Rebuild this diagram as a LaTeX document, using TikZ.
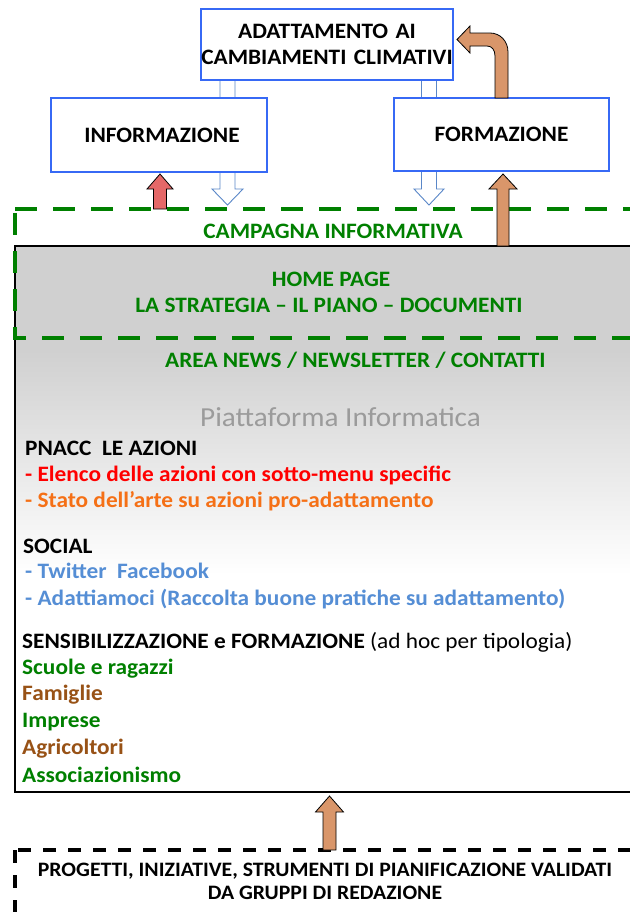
\documentclass[tikz,border=0pt]{standalone}
\usepackage{fontspec}
\setmainfont{Carlito}[FakeStretch=1.06]
\definecolor{boxblue}{RGB}{55,105,245}
\definecolor{hollowblue}{RGB}{90,135,200}
\definecolor{dgreen}{RGB}{0,128,0}
\definecolor{arrred}{RGB}{229,104,104}
\definecolor{arrorange}{RGB}{217,150,106}
\definecolor{txtred}{RGB}{255,0,0}
\definecolor{txtorange}{RGB}{245,112,22}
\definecolor{txtblue}{RGB}{85,142,213}
\definecolor{txtbrown}{RGB}{152,82,22}
\definecolor{platgray}{RGB}{155,155,155}
\definecolor{panelgray}{RGB}{208,208,208}
\newcommand\dtitlefont{\fontsize{22bp}{26bp}\selectfont\bfseries}
\newcommand\ditemfont{\fontsize{22bp}{26bp}\selectfont\bfseries}
\newcommand\dprogfont{\fontsize{20.5bp}{23bp}\selectfont\bfseries}
\begin{document}
\begin{tikzpicture}[x=1bp,y=-1bp,
  bluebox/.style={draw=boxblue,line width=2bp,fill=white,inner sep=0pt,align=center,font=\dtitlefont},
  hollow/.style={draw=hollowblue,line width=0.9bp,fill=white},
  fatarrow/.style={draw=black,line width=0.8bp},
  titletxt/.style={inner sep=0pt,font=\dtitlefont,text=dgreen},
  item/.style={anchor=base west,inner sep=0pt,font=\ditemfont},
  greendash/.style={draw=dgreen,line width=4.5bp,dash pattern=on 22bp off 16bp},
  blackdash/.style={draw=black,line width=3.5bp,dash pattern=on 13bp off 12bp}
]
\useasboundingbox (0,0) rectangle (630,912);
\clip (0,0) rectangle (630,912);
\fill[white] (0,0) rectangle (630,912);

% hollow arrows (behind boxes)
\coordinate (hl) at (227.5,80);
\coordinate (hr) at (429,80);
\draw[hollow] (hl) ++(-7.5,0) -- ++(0,109) -- ++(-8,0) -- ++(15.5,16) -- ++(15.5,-16) -- ++(-8,0) -- ++(0,-109) -- cycle;
\draw[hollow] (hr) ++(-7.5,0) -- ++(0,109) -- ++(-7.5,0) -- ++(15,16) -- ++(15,-16) -- ++(-7.5,0) -- ++(0,-109) -- cycle;

% blue boxes
\node[bluebox,text width=252bp,minimum height=71bp] (top) at (327,44.5) {ADATTAMENTO AI\\CAMBIAMENTI CLIMATIVI};
\node[bluebox,minimum width=216bp,minimum height=74bp] (info) at (159,135) {\hspace*{6bp}INFORMAZIONE};
\node[bluebox,minimum width=215bp,minimum height=73bp] (form) at (501.5,134.5) {FORMAZIONE};

% panel
\fill[white] (15,246) rectangle (660,792);
\fill[panelgray] (15,246) rectangle (660,350);
\shade[top color=panelgray,bottom color=white] (15,350) rectangle (660,575);
\draw[line width=2bp] (660,246) -- (15,246) -- (15,792) -- (660,792);
\coordinate (paneltop) at (503,246);
\coordinate (panelbot) at (329.5,792);

% green dashed campaign box
\draw[greendash] (15,209) -- (660,209);
\draw[greendash,dash phase=34bp] (15,209) -- (15,338) -- (660,338);
\coordinate (camptop) at (160,209);

% black dashed bottom box
\draw[blackdash,dash phase=22bp] (15,850) -- (660,850);
\draw[blackdash] (15,850) -- (15,930);
\coordinate (progtop) at (329.5,850);

% solid arrows
\filldraw[fatarrow,fill=arrred] (camptop) ++(-6.5,0) -- ++(0,-20) -- ++(-6.5,0) -- ++(13,-15) -- ++(13,15) -- ++(-6.5,0) -- ++(0,20) -- cycle;
\filldraw[fatarrow,fill=arrorange] (paneltop) ++(-6,0) -- ++(0,-57) -- ++(-8,0) -- ++(14,-15) -- ++(14,15) -- ++(-8,0) -- ++(0,57) -- cycle;
\filldraw[fatarrow,fill=arrorange] (progtop) ++(-6.5,0) -- ++(0,-38) -- ++(-7.5,0) -- ++(14,-16) -- ++(14,16) -- ++(-7.5,0) -- ++(0,38) -- cycle;
\coordinate (formtop) at (501.5,98);
\filldraw[fatarrow,fill=arrorange] (formtop) ++(-6.5,0) -- ++(0,-42)
  .. controls +(0,-6) and +(5,0) .. ++(-8,-10) -- ++(-17,0) -- ++(0,7) -- ++(-13,-13.5) -- ++(13,-13.5) -- ++(0,7)
  -- ++(20,0) .. controls +(10,0) and +(0,-11) .. ++(18,19) -- ++(0,46) -- cycle;

% texts
\node[titletxt,anchor=base] (camp) at (333,238) {CAMPAGNA INFORMATIVA};
\node[titletxt,anchor=base] (home) at (331,286) {HOME PAGE};
\node[titletxt,anchor=base] (strat) at (329,312) {LA STRATEGIA – IL PIANO – DOCUMENTI};
\node[titletxt,anchor=base west] (area) at (165,367) {AREA NEWS / NEWSLETTER / CONTATTI};
\node[anchor=base west,inner sep=0pt,font=\fontsize{27.5bp}{32bp}\selectfont,text=platgray] (plat) at (200,426) {Piattaforma Informatica};
\node[item] (pnacc) at (25,455) {PNACC\ \ LE AZIONI};
\node[item,text=txtred] (elenco) at (25,481) {- Elenco delle azioni con sotto-menu specific};
\node[item,text=txtorange] (stato) at (25,507) {- Stato dell’arte su azioni pro-adattamento};
\node[item] (social) at (23,553) {SOCIAL};
\node[item,text=txtblue] (tw) at (25,578) {- Twitter\ \ Facebook};
\node[item,text=txtblue] (adat) at (25,605) {- Adattiamoci (Raccolta buone pratiche su adattamento)};
\node[item] (sens) at (22,648) {SENSIBILIZZAZIONE e FORMAZIONE {\mdseries (ad hoc per tipologia)}};
\node[item,text=dgreen] (scuole) at (22,674) {Scuole e ragazzi};
\node[item,text=txtbrown] (fam) at (22,700) {Famiglie};
\node[item,text=dgreen] (imp) at (22,727) {Imprese};
\node[item,text=txtbrown] (agr) at (22,754) {Agricoltori};
\node[item,text=dgreen] (ass) at (22,782) {Associazionismo};
\node[inner sep=0pt,anchor=base,font=\dprogfont] (prog1) at (325,876) {PROGETTI, INIZIATIVE, STRUMENTI DI PIANIFICAZIONE VALIDATI};
\node[inner sep=0pt,anchor=base,font=\dprogfont] (prog2) at (325,899) {DA GRUPPI DI REDAZIONE};
\end{tikzpicture}
\end{document}
